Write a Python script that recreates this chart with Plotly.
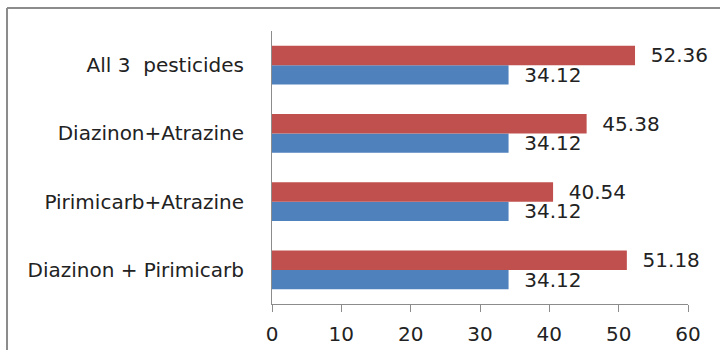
import plotly.graph_objects as go

# Treatment combinations, listed bottom-to-top
categories = ["Diazinon + Pirimicarb", "Pirimicarb+Atrazine", "Diazinon+Atrazine", "All 3  pesticides"]
blue_values = [34.12, 34.12, 34.12, 34.12]
red_values = [51.18, 40.54, 45.38, 52.36]
x_ticks = [0, 10, 20, 30, 40, 50, 60]

BLUE = "#4F81BD"
RED = "#C0504D"
GREY = "#8C8C8C"
FONT = "DejaVu Sans"
TEXT = "#222222"

fig = go.Figure()
for vals, color in ((blue_values, BLUE), (red_values, RED)):
    fig.add_trace(go.Bar(
        y=categories, x=vals, orientation="h",
        marker=dict(color=color, line=dict(width=0)),
        text=["\u00a0\u00a0" + f"{v:.2f}" for v in vals],
        textposition="outside", cliponaxis=False, constraintext="none",
        textfont=dict(family=FONT, size=20, color=TEXT),
    ))

fig.update_layout(
    width=720, height=350,
    margin=dict(l=272, r=32, t=31, b=46),
    barmode="group", bargap=0.43, bargroupgap=0,
    showlegend=False,
    plot_bgcolor="white", paper_bgcolor="white",
    font=dict(family=FONT, color=TEXT),
    xaxis=dict(
        range=[0, 60], tickvals=x_ticks, ticktext=[str(t) for t in x_ticks],
        showgrid=False, zeroline=False, automargin=False,
        showline=True, linecolor=GREY, linewidth=1,
        ticks="outside", ticklen=7, tickcolor=GREY, tickwidth=1,
        ticklabelstandoff=5,
        tickfont=dict(family=FONT, size=20, color=TEXT),
    ),
    yaxis=dict(
        categoryorder="array", categoryarray=categories,
        showgrid=False, zeroline=False, automargin=False,
        showline=True, linecolor=GREY, linewidth=1,
        ticks="", ticklabelstandoff=23,
        tickfont=dict(family=FONT, size=20, color=TEXT),
    ),
    shapes=[
        # chart frame (top and left edges visible)
        dict(type="line", xref="paper", yref="paper",
             x0=-0.637, x1=1.3, y0=1.084, y1=1.084,
             line=dict(color=GREY, width=2)),
        dict(type="line", xref="paper", yref="paper",
             x0=-0.637, x1=-0.637, y0=-0.4, y1=1.084,
             line=dict(color=GREY, width=2)),
    ],
)

fig.write_html("out.html")
